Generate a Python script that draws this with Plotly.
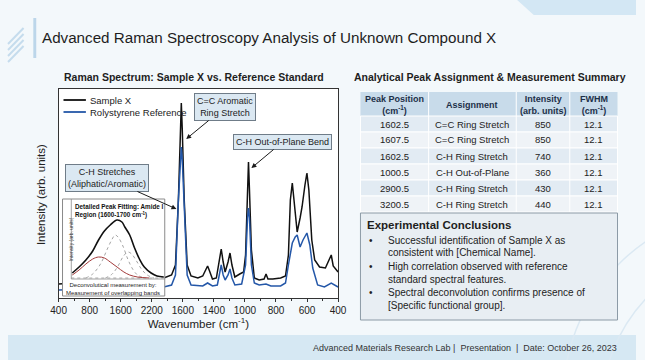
import plotly.graph_objects as go

W, H = 645, 360
def PX(x): return x / W
def PY(y): return 1 - y / H

# ---------------- data ----------------
tick_labels = ['400', '800', '1600', '2200', '1600', '1400', '1000', '800', '600', '400']
x_span = 287

sample_x = [0, 48, 98, 108, 116, 120, 123, 125, 126, 127, 129, 132, 136, 143, 148, 151, 153, 155, 158,
            162, 165, 167, 169, 171, 174, 176, 178, 181, 186, 190, 192, 194, 195, 196, 198, 201, 206,
            211, 213, 215, 220, 228, 233, 236, 238, 240, 242, 245, 248, 250, 253, 255, 257, 260, 263,
            268, 274, 277, 280, 282, 287]
sample_y = [14, 17, 19, 20, 23, 33, 98, 168, 195, 168, 98, 33, 22, 20, 22, 28, 32, 27, 19,
            20, 36, 49, 36, 26, 36, 45, 33, 21, 24, 26, 43, 108, 136, 108, 48, 20, 18,
            19, 24, 19, 19, 20, 22, 43, 98, 115, 98, 66, 80, 91, 113, 125, 108, 58, 38,
            31, 30, 36, 43, 32, 26]

ref_x = [0, 48, 108, 116, 120, 123, 125, 126, 127, 129, 132, 136, 148, 153, 158, 163, 165, 167, 169,
         171, 174, 176, 178, 181, 188, 192, 194, 195, 196, 198, 201, 206, 213, 218, 228, 233, 236,
         240, 243, 245, 248, 251, 255, 258, 261, 266, 273, 280, 287]
ref_y = [8, 9, 11, 13, 23, 98, 138, 151, 138, 98, 23, 13, 12, 15, 12, 13, 23, 33, 23,
         18, 23, 29, 20, 13, 14, 33, 80, 90, 80, 33, 15, 13, 14, 12, 12, 15, 33,
         55, 61, 63, 51, 58, 65, 53, 30, 13, 11, 15, 11]

# inset (peak fitting)
env_x = [1, 8, 15, 22, 28, 34, 40, 47, 52, 55, 60, 65, 70, 75, 82, 88, 95]
env_y = [6, 12, 19, 28, 39, 48, 54, 59, 57, 52, 44, 31, 20, 12, 6, 3, 2]
red_x = [1, 8, 15, 22, 28, 34, 40, 47, 54, 60, 68, 80]
red_y = [4, 9, 15, 20, 22, 21, 17, 12, 7, 4, 2, 1]
g1_x = [15, 22, 30, 37, 42, 45, 48, 53, 58, 63, 68, 75]
g1_y = [1, 5, 15, 30, 40, 44, 42, 33, 20, 10, 4, 1]
g2_x = [35, 42, 48, 53, 58, 62, 67, 72, 78, 85]
g2_y = [1, 5, 13, 22, 27, 25, 18, 10, 4, 1]
base_x = [0, 95]
base_y = [1, 1]

# table
col_pos = ['1602.5', '1607.5', '1602.5', '1000.5', '2900.5', '3200.5']
col_assign = ['C=C Ring Stretch', 'C=C Ring Stretch', 'C-H Ring Stretch', 'C-H Out-of-Plane',
              'C-H Ring Stretch', 'C-H Ring Stretch']
col_int = ['850', '850', '740', '360', '430', '440']
col_fwhm = ['12.1', '12.1', '12.1', '12.1', '12.1', '12.1']
headers = [['Peak Position', '(cm<sup>-1</sup>)'], ['Assignment'],
           ['Intensity', '(arb. units)'], ['FWHM', '(cm<sup>-1</sup>)']]

conclusions = [
    ['Successful identification of Sample X as', 'consistent with [Chemical Name].'],
    ['High correlation observed with reference', 'standard spectral features.'],
    ['Spectral deconvolution confirms presence of', '[Specific functional group].'],
]

FONT = 'Arial, "Liberation Sans", sans-serif'
TXT = '#1e1e1e'
SAMPLE_COL = '#111111'
REF_COL = '#2457a8'
fig = go.Figure()

# main spectrum
fig.add_trace(go.Scatter(x=sample_x, y=sample_y, mode='lines', name='Sample X',
                         line=dict(color=SAMPLE_COL, width=1.5), xaxis='x', yaxis='y'))
fig.add_trace(go.Scatter(x=ref_x, y=ref_y, mode='lines', name='Rolystyrene Reference',
                         line=dict(color=REF_COL, width=1.5), xaxis='x', yaxis='y'))

# inset
for xs, ys, col, dash, wdt in [(base_x, base_y, '#999999', 'dot', 0.8),
                               (g1_x, g1_y, '#9a9a9a', 'dot', 0.9),
                               (g2_x, g2_y, '#9a9a9a', 'dot', 0.9),
                               (red_x, red_y, '#a33a3a', 'solid', 1.0),
                               (env_x, env_y, '#111111', 'solid', 1.6)]:
    fig.add_trace(go.Scatter(x=xs, y=ys, mode='lines', showlegend=False, hoverinfo='skip',
                             line=dict(color=col, width=wdt, dash=dash, shape='spline'),
                             xaxis='x2', yaxis='y2'))

step = x_span / (len(tick_labels) - 1)
tickvals = [i * step for i in range(len(tick_labels))]
minor_vals = [(i + 0.5) * step for i in range(len(tick_labels) - 1)]

shapes = []
ann = []
# background decorations
shapes.append(dict(type='path', xref='paper', yref='paper', layer='below',
                   path=f'M {PX(523)},{PY(0)} L {PX(645)},{PY(0)} L {PX(645)},{PY(15)} L {PX(540)},{PY(15)} Z',
                   fillcolor='#d3e7f4', line=dict(width=0)))
shapes.append(dict(type='rect', xref='paper', yref='paper', layer='below',
                   x0=PX(0), x1=PX(645), y0=PY(360), y1=PY(335),
                   fillcolor='#d6e8f3', line=dict(width=0)))
shapes.append(dict(type='rect', xref='paper', yref='paper', layer='below',
                   x0=PX(26), x1=PX(29), y0=PY(58), y1=PY(18),
                   fillcolor='#bcd6ea', line=dict(width=0)))
for k in range(4):
    shapes.append(dict(type='line', xref='paper', yref='paper', layer='below',
                       x0=PX(0), y0=PY(44 + k * 6), x1=PX(16), y1=PY(28 + k * 6),
                       line=dict(color='#c5dced', width=2)))
for cx, cy, r in [(760, 400, 190), (770, 410, 160), (780, 420, 130)]:
    shapes.append(dict(type='circle', xref='paper', yref='paper', layer='below',
                       x0=PX(cx - r), x1=PX(cx + r), y0=PY(cy + r), y1=PY(cy - r),
                       line=dict(color='#dbe9f3', width=1.5)))

# ---- table built from the lists ----
col_edges = [362, 432, 522, 577, 626]
head_top, head_h, row_h = 92, 24, 16
columns = [col_pos, col_assign, col_int, col_fwhm]
shapes.append(dict(type='rect', xref='paper', yref='paper', layer='below',
                   x0=PX(col_edges[0]), x1=PX(col_edges[-1]), y0=PY(head_top + head_h), y1=PY(head_top),
                   fillcolor='#c8dbea', line=dict(width=0)))
for r in range(len(col_pos)):
    y0 = head_top + head_h + r * row_h
    shapes.append(dict(type='rect', xref='paper', yref='paper', layer='below',
                       x0=PX(col_edges[0]), x1=PX(col_edges[-1]), y0=PY(y0 + row_h), y1=PY(y0),
                       fillcolor='#e2ebf3' if r % 2 == 0 else '#eff3f7',
                       line=dict(color='#ffffff', width=1)))
for c in range(1, len(col_edges) - 1):
    shapes.append(dict(type='line', xref='paper', yref='paper', layer='below',
                       x0=PX(col_edges[c]), x1=PX(col_edges[c]),
                       y0=PY(head_top + head_h + len(col_pos) * row_h), y1=PY(head_top),
                       line=dict(color='#ffffff', width=1)))
for c, hd in enumerate(headers):
    cx = (col_edges[c] + col_edges[c + 1]) / 2
    ann.append(dict(text='<b>' + '<br>'.join(hd) + '</b>', xref='paper', yref='paper',
                    x=PX(cx), y=PY(head_top + head_h / 2 + 0.5), xanchor='center', yanchor='middle',
                    showarrow=False, font=dict(size=9, color='#1d3049')))
    for r, val in enumerate(columns[c]):
        ann.append(dict(text=val, xref='paper', yref='paper', x=PX(cx),
                        y=PY(head_top + head_h + r * row_h + row_h / 2), xanchor='center',
                        yanchor='middle', showarrow=False, font=dict(size=9.5, color='#222222')))

# conclusions box
shapes.append(dict(type='rect', xref='paper', yref='paper', layer='below',
                   x0=PX(362), x1=PX(626), y0=PY(320), y1=PY(213),
                   fillcolor='#e8eef3', line=dict(color='#8c9aa6', width=1)))
# inset box border and inner axes
shapes.append(dict(type='rect', xref='paper', yref='paper', layer='above',
                   x0=PX(56), x1=PX(161), y0=PY(296), y1=PY(199),
                   line=dict(color='#8a8a8a', width=1)))
shapes.append(dict(type='line', xref='x2', yref='y2', layer='above', x0=0, x1=0, y0=0, y1=80,
                   line=dict(color='#8a8a8a', width=0.8)))
shapes.append(dict(type='line', xref='x2', yref='y2', layer='above', x0=0, x1=96, y0=0, y1=0,
                   line=dict(color='#8a8a8a', width=0.8)))

# manual legend (short line samples like the reference)
for i, (nm, col) in enumerate([(fig.data[0].name, SAMPLE_COL), (fig.data[1].name, REF_COL)]):
    ly = 100 + i * 12
    shapes.append(dict(type='line', xref='paper', yref='paper', layer='above',
                       x0=PX(57), x1=PX(80), y0=PY(ly), y1=PY(ly), line=dict(color=col, width=1.8)))
    ann.append(dict(text=nm, xref='paper', yref='paper', x=PX(82), y=PY(ly), xanchor='left',
                    yanchor='middle', showarrow=False, font=dict(size=9.5, color='#222222')))

ann.append(dict(text='Advanced Raman Spectroscopy Analysis of Unknown Compound X', xref='paper', yref='paper',
                x=PX(33), y=PY(38), xanchor='left', yanchor='middle', showarrow=False,
                font=dict(size=15.2, color=TXT)))
ann.append(dict(text='<b>Raman Spectrum: Sample X vs. Reference Standard</b>', xref='paper', yref='paper',
                x=PX(191), y=PY(77), xanchor='center', yanchor='middle', showarrow=False,
                font=dict(size=10.5, color=TXT)))
ann.append(dict(text='<b>Analytical Peak Assignment & Measurement Summary</b>', xref='paper', yref='paper',
                x=PX(495), y=PY(77), xanchor='center', yanchor='middle', showarrow=False,
                font=dict(size=10.5, color=TXT)))
ann.append(dict(text='Intensity (arb. units)', xref='paper', yref='paper', x=PX(34), y=PY(195),
                textangle=-90, showarrow=False, xanchor='center', yanchor='middle',
                font=dict(size=11.5, color='#222222')))
ann.append(dict(text='Advanced Materials Research Lab |  Presentation  |  Date: October 26, 2023',
                xref='paper', yref='paper', x=PX(628), y=PY(348), xanchor='right', yanchor='middle',
                showarrow=False, font=dict(size=9, color='#333333')))
# callouts
box = dict(bgcolor='#dbe8f2', bordercolor='#6f7c88', borderwidth=1, borderpad=2,
           font=dict(size=9, color='#222222'), showarrow=True, arrowhead=2, arrowsize=1,
           arrowwidth=1, arrowcolor='#1a1a1a', xref='x', yref='y', axref='x', ayref='y')
ann.append(dict(text='C=C Aromatic<br>Ring Stretch', x=131, y=159, ax=171, ay=191, **box))
ann.append(dict(text='C-H Out-of-Plane Bend', x=198, y=130, ax=230, ay=156, **box))
ann.append(dict(text='C-H Stretches<br>(Aliphatic/Aromatic)', x=121, y=89, ax=50, ay=120, **box))
# inset texts
ann.append(dict(text='<b>Detailed Peak Fitting: Amide I<br>Region (1600-1700 cm<sup>-1</sup>)</b>',
                xref='paper', yref='paper', x=PX(67), y=PY(201), xanchor='left', yanchor='top',
                align='left', showarrow=False, font=dict(size=6.3, color='#111111')))
ann.append(dict(text='Intensity (arb. units)', xref='paper', yref='paper', x=PX(60), y=PY(239),
                textangle=-90, showarrow=False, font=dict(size=5, color='#444444')))
ann.append(dict(text='Deconvolutical measurement by:<br>Measurement of overlapping bands',
                xref='paper', yref='paper', x=PX(108), y=PY(289), xanchor='center', yanchor='middle',
                showarrow=False, font=dict(size=6, color='#222222')))
# conclusions
ann.append(dict(text='<b>Experimental Conclusions</b>', xref='paper', yref='paper', x=PX(367), y=PY(225),
                xanchor='left', yanchor='middle', showarrow=False, font=dict(size=11.5, color=TXT)))
line_y = [240, 253, 266, 279, 292, 305]
li = 0
for item in conclusions:
    ann.append(dict(text='•', xref='paper', yref='paper', x=PX(373), y=PY(line_y[li]), xanchor='center',
                    yanchor='middle', showarrow=False, font=dict(size=10, color='#222222')))
    for ln in item:
        ann.append(dict(text=ln, xref='paper', yref='paper', x=PX(388), y=PY(line_y[li]), xanchor='left',
                        yanchor='middle', showarrow=False, font=dict(size=10, color='#222222')))
        li += 1

fig.update_layout(
    width=W, height=H, margin=dict(l=0, r=0, t=0, b=0),
    paper_bgcolor='#f3f8fb', plot_bgcolor='#ffffff',
    font=dict(family=FONT, color='#222222'),
    showlegend=False,
    xaxis=dict(domain=[PX(52), PX(339)], range=[0, x_span], tickmode='array', tickvals=tickvals,
               ticktext=tick_labels, ticks='outside', ticklen=3, tickcolor='#333333',
               showline=True, linecolor='#333333', linewidth=1.2, mirror=True, showgrid=False,
               zeroline=False, tickfont=dict(size=10, color='#222222'),
               minor=dict(tickvals=minor_vals, ticks='outside', ticklen=2, tickcolor='#333333'),
               title=dict(text='Wavenumber (cm<sup>-1</sup>)', font=dict(size=11.5, color='#222222'), standoff=4)),
    yaxis=dict(domain=[PY(298), PY(89)], range=[0, 209], showticklabels=False, ticks='',
               showline=True, linecolor='#333333', linewidth=1.2, mirror=True, showgrid=False,
               zeroline=False),
    xaxis2=dict(domain=[PX(56), PX(161)], range=[-9, 96], visible=False, anchor='y2'),
    yaxis2=dict(domain=[PY(296), PY(199)], range=[-17, 80], visible=False, anchor='x2'),
    shapes=shapes, annotations=ann,
)

fig.write_html('out.html')
